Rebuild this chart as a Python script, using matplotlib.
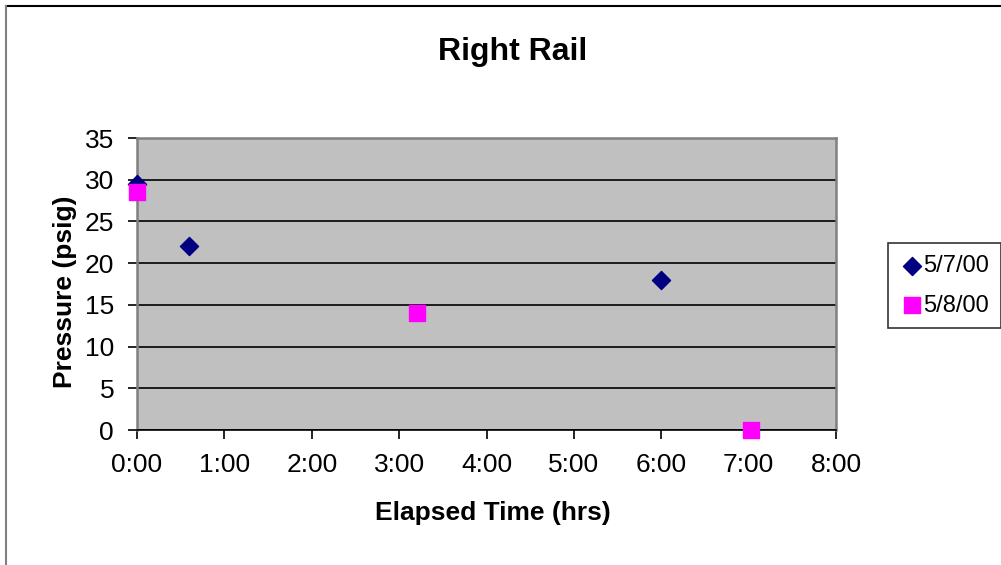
import matplotlib
matplotlib.use('Agg')
import matplotlib.pyplot as plt
from matplotlib.lines import Line2D

# elapsed time in hours, pressure in psig
t_0507 = [0.0, 0.6, 6.0]
p_0507 = [29.5, 22.0, 18.0]
t_0508 = [0.0, 3.2, 7.03]
p_0508 = [28.5, 14.0, 0.0]

xticks = [0, 1, 2, 3, 4, 5, 6, 7, 8]
xlabels = ['%d:00' % h for h in xticks]
yticks = [0, 5, 10, 15, 20, 25, 30, 35]

plt.rcParams['font.family'] = ['Liberation Sans', 'DejaVu Sans']

fig = plt.figure(figsize=(10.01, 5.65), dpi=100)
ax = fig.add_axes([137/1001, 135/565, 699/1001, 292/565])
ax.set_facecolor('#C0C0C0')

ax.set_axisbelow(True)
ax.yaxis.grid(True, color='black', linewidth=1.2)
ax.scatter(t_0507, p_0507, marker='D', s=85, color='#000080', label='5/7/00', zorder=3, clip_on=False)
ax.scatter(t_0508, p_0508, marker='s', s=130, color='#FF00FF', label='5/8/00', zorder=3, clip_on=False)

ax.set_xlim(0, 8)
ax.set_ylim(0, 35)
ax.set_xticks(xticks)
ax.set_xticklabels(xlabels)
ax.set_yticks(yticks)
ax.tick_params(axis='both', labelsize=19, direction='out', length=6.5, width=1.2, color='black')
ax.tick_params(axis='x', pad=10)
ax.tick_params(axis='y', pad=10)

for s in ['left', 'right', 'top', 'bottom']:
    ax.spines[s].set_color('#808080')
    ax.spines[s].set_linewidth(1.8)
ax.spines['bottom'].set_color('black')
ax.spines['bottom'].set_linewidth(1.2)

fig.text(513/1001, 1 - 52/565, 'Right Rail', fontsize=23, fontweight='bold', ha='center', va='center')
fig.text(493/1001, 1 - 513/565, 'Elapsed Time (hrs)', fontsize=19, fontweight='bold', ha='center', va='center')
fig.text(65/1001, 1 - 292/565, 'Pressure (psig)', fontsize=19, fontweight='bold', ha='center', va='center',
         rotation=90)

leg = fig.legend(loc='upper left', bbox_to_anchor=(888/1001, 1 - 243/565), fontsize=17,
                 frameon=True, fancybox=False, edgecolor='black', handletextpad=0.0,
                 handlelength=1.0, borderpad=0.5, labelspacing=0.75, borderaxespad=0)
leg.get_frame().set_linewidth(1.2)

fig.add_artist(Line2D([5.5/1001, 1], [1 - 6/565, 1 - 6/565], color='black', linewidth=1.5))
fig.add_artist(Line2D([5.5/1001, 5.5/1001], [0, 1 - 6/565], color='#808080', linewidth=1.5))

fig.savefig('out.png', dpi=100)
